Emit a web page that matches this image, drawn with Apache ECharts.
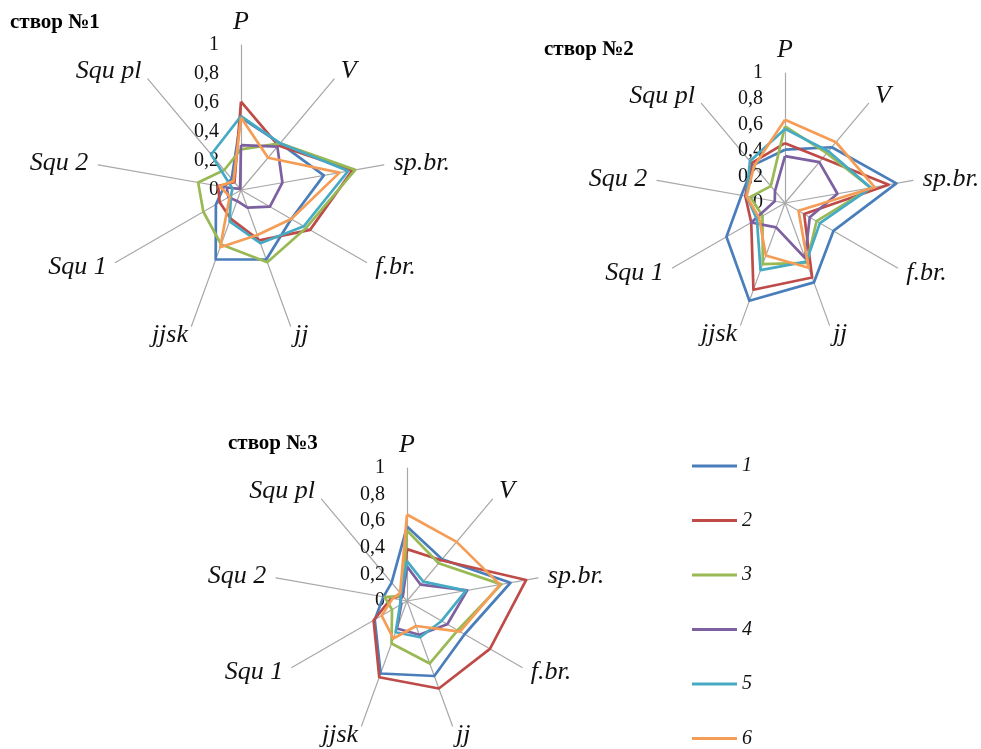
<!DOCTYPE html>
<html lang="uk">
<head>
<meta charset="UTF-8">
<script src="https://cdn.jsdelivr.net/npm/echarts@6/dist/echarts.min.js"></script>
</head>
<body style="margin:0;background:#fff">
<div id="chart" style="width:981px;height:749px;"></div>
<script>
// axes of every radar, clockwise from the top
var axisNames = ['P', 'V', 'sp.br.', 'f.br.', 'jj', 'jjsk', 'Squ 1', 'Squ 2', 'Squ pl'];
var seriesNames = ['1', '2', '3', '4', '5', '6'];
var colors = ['#4a7ebb', '#be4b48', '#98b954', '#7d60a0', '#46aac5', '#f59d56'];
var titles = ['створ №1', 'створ №2', 'створ №3'];

// values per series (1..6), in axis order
var stvor1 = [
  [0.50, 0.42, 0.58, 0.40, 0.51, 0.51, 0.20, 0.12, 0.10],
  [0.61, 0.40, 0.78, 0.55, 0.37, 0.21, 0.17, 0.16, 0.07],
  [0.28, 0.42, 0.80, 0.52, 0.53, 0.40, 0.30, 0.30, 0.18],
  [0.31, 0.39, 0.29, 0.23, 0.13, 0.08, 0.10, 0.10, 0.01],
  [0.51, 0.42, 0.75, 0.50, 0.39, 0.23, 0.08, 0.06, 0.32],
  [0.50, 0.29, 0.69, 0.40, 0.33, 0.42, 0.09, 0.15, 0.08]
];
var stvor2 = [
  [0.41, 0.56, 0.87, 0.43, 0.65, 0.80, 0.52, 0.34, 0.38],
  [0.46, 0.45, 0.81, 0.17, 0.61, 0.71, 0.30, 0.31, 0.40],
  [0.59, 0.50, 0.67, 0.28, 0.49, 0.50, 0.20, 0.27, 0.17],
  [0.36, 0.41, 0.41, 0.22, 0.45, 0.20, 0.30, 0.08, 0.12],
  [0.57, 0.52, 0.67, 0.31, 0.48, 0.55, 0.25, 0.30, 0.42],
  [0.64, 0.61, 0.70, 0.12, 0.53, 0.43, 0.23, 0.30, 0.37]
];
var stvor3 = [
  [0.56, 0.41, 0.79, 0.50, 0.60, 0.58, 0.28, 0.18, 0.18],
  [0.39, 0.40, 0.91, 0.72, 0.70, 0.61, 0.29, 0.12, 0.05],
  [0.53, 0.37, 0.72, 0.44, 0.50, 0.34, 0.13, 0.17, 0.05],
  [0.26, 0.16, 0.46, 0.35, 0.27, 0.22, 0.05, 0.05, 0.05],
  [0.30, 0.19, 0.45, 0.30, 0.29, 0.25, 0.06, 0.05, 0.07],
  [0.65, 0.58, 0.71, 0.46, 0.20, 0.30, 0.22, 0.11, 0.08]
];

var chart = echarts.init(document.getElementById('chart'));
var serif = '"Liberation Serif", "Times New Roman", serif';

// echarts lays radar axes out counter-clockwise, so keep the first one and flip the rest
function clockwise(arr) {
  return [arr[0]].concat(arr.slice(1).reverse());
}

function makeRadar(center, radius) {
  return {
    center: center,
    radius: radius,
    startAngle: 90,
    splitNumber: 5,
    indicator: clockwise(axisNames).map(function (n, i) {
      var ind = { name: n, min: 0, max: 1 };
      if (i === 0) ind.axisLabel = { show: true };
      return ind;
    }),
    nameGap: 10,
    axisName: { color: '#111', fontFamily: serif, fontStyle: 'italic', fontSize: 26 },
    axisLine: { lineStyle: { color: '#a8a8a8', width: 1.2 } },
    axisTick: { show: false },
    splitLine: { show: false },
    splitArea: { show: false },
    axisLabel: {
      show: false,
      margin: 22,
      color: '#111',
      fontFamily: serif,
      fontSize: 20,
      formatter: function (v) { return String(+v.toFixed(1)).replace('.', ','); }
    }
  };
}

function makeSeries(idx, rows) {
  return {
    type: 'radar',
    radarIndex: idx,
    symbol: 'none',
    silent: true,
    data: rows.map(function (r, i) {
      return {
        name: seriesNames[i],
        value: clockwise(r),
        lineStyle: { color: colors[i], width: 2.7 },
        itemStyle: { color: colors[i] }
      };
    })
  };
}

var titleStyle = { fontFamily: serif, fontWeight: 'bold', fontSize: 21, color: '#000' };

chart.setOption({
  animation: false,
  title: [
    { text: titles[0], left: 10, top: 12, padding: 0, textStyle: titleStyle },
    { text: titles[1], left: 544, top: 39, padding: 0, textStyle: titleStyle },
    { text: titles[2], left: 228, top: 433, padding: 0, textStyle: titleStyle }
  ],
  legend: {
    orient: 'vertical',
    left: 692,
    top: 456,
    data: seriesNames,
    icon: 'rect',
    itemWidth: 45,
    itemHeight: 3,
    itemGap: 34.5,
    padding: 0,
    textStyle: { fontFamily: serif, fontStyle: 'italic', fontSize: 20, color: '#111' }
  },
  radar: [
    makeRadar([241, 190], 145),
    makeRadar([785, 203], 130),
    makeRadar([407, 601], 133)
  ],
  series: [
    makeSeries(0, stvor1),
    makeSeries(1, stvor2),
    makeSeries(2, stvor3)
  ]
});
</script>
</body>
</html>
